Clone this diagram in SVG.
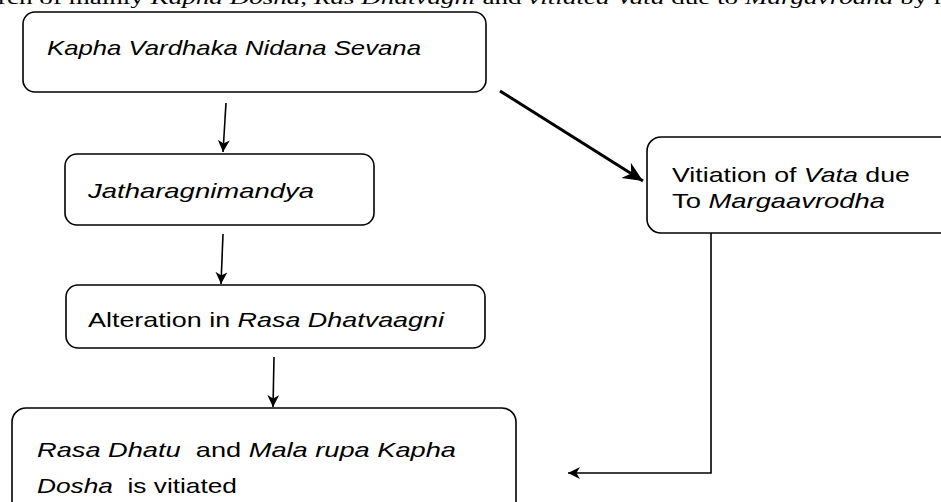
<svg xmlns="http://www.w3.org/2000/svg" width="941" height="502" viewBox="0 0 941 502">
<defs>
<style>
.box{fill:#fff;stroke:#000;stroke-width:1.6}
.t{font-family:"Liberation Sans",Arial,sans-serif;font-size:21px;fill:#000}
.i{font-style:italic}
.c{fill:none;stroke:#000;stroke-width:1.6}
.top{font-family:"Liberation Serif","Times New Roman",serif;font-size:18px;fill:#000}
</style>
<marker id="ah2" viewBox="0 0 10 10" refX="10" refY="5" markerWidth="12" markerHeight="12" markerUnits="userSpaceOnUse" orient="auto">
<path d="M0,0 L10,5 L0,10 L3,5 z" fill="#000"/>
</marker>
<marker id="ah3" viewBox="0 0 10 10" refX="10" refY="5" markerWidth="20" markerHeight="20" markerUnits="userSpaceOnUse" orient="auto">
<path d="M0,0.5 L10,5 L0,9.5 L3,5 z" fill="#000"/>
</marker>
</defs>
<rect width="941" height="502" fill="#fff"/>
<text class="top" x="-2" y="4" textLength="945" lengthAdjust="spacingAndGlyphs">rch of mainly <tspan class="i">Kapha Dosha</tspan>, <tspan class="i">Ras Dhatvagni</tspan> and <tspan class="i">vitiated Vata</tspan> due to <tspan class="i">Margavrodha</tspan> by r</text>
<g id="connectors">
<line class="c" x1="226" y1="103" x2="223" y2="152" marker-end="url(#ah2)"/>
<line class="c" x1="223" y1="234" x2="221" y2="284" marker-end="url(#ah2)"/>
<line class="c" x1="274" y1="357" x2="273" y2="407" marker-end="url(#ah2)"/>
<line x1="500" y1="91" x2="643" y2="181" stroke="#000" stroke-width="3" marker-end="url(#ah3)"/>
<polyline class="c" points="711,233 711,473 568,473" marker-end="url(#ah2)"/>
</g>
<g id="n1">
<rect class="box" x="23" y="12" width="463" height="80" rx="12"/>
<text class="t i" x="47" y="55" font-size="24" textLength="374" lengthAdjust="spacingAndGlyphs">Kapha Vardhaka Nidana Sevana</text>
</g>
<g id="n2">
<rect class="box" x="65" y="154" width="309" height="71" rx="12"/>
<text class="t i" x="88" y="198" font-size="25" textLength="226" lengthAdjust="spacingAndGlyphs">Jatharagnimandya</text>
</g>
<g id="n3">
<rect class="box" x="66" y="285" width="419" height="63" rx="12"/>
<text class="t" x="88" y="327" font-size="23" textLength="356" lengthAdjust="spacingAndGlyphs">Alteration in <tspan class="i">Rasa Dhatvaagni</tspan></text>
</g>
<g id="n4">
<rect class="box" x="12" y="408" width="504" height="110" rx="14"/>
<text class="t" x="37" y="457" font-size="22" xml:space="preserve" textLength="419" lengthAdjust="spacingAndGlyphs"><tspan class="i">Rasa Dhatu</tspan>  and <tspan class="i">Mala rupa Kapha</tspan></text>
<text class="t" x="37" y="493" font-size="22" xml:space="preserve" textLength="200" lengthAdjust="spacingAndGlyphs"><tspan class="i">Dosha</tspan>  is vitiated</text>
</g>
<g id="n5">
<rect class="box" x="647" y="137" width="310" height="96" rx="14"/>
<text class="t" x="672" y="182" font-size="24" textLength="238" lengthAdjust="spacingAndGlyphs">Vitiation of <tspan class="i">Vata</tspan> due</text>
<text class="t" x="672" y="208" font-size="24" textLength="213" lengthAdjust="spacingAndGlyphs">To <tspan class="i">Margaavrodha</tspan></text>
</g>
</svg>
